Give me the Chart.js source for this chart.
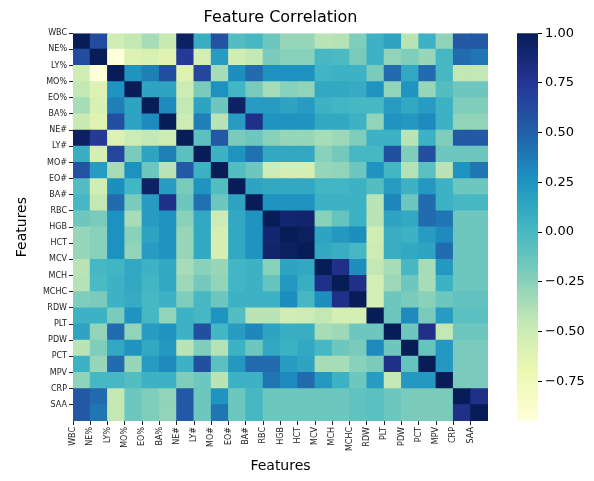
<!DOCTYPE html>
<html><head><meta charset="utf-8">
<script src="https://cdn.jsdelivr.net/npm/chart.js@4.4.1/dist/chart.umd.min.js"></script>
<style>
html,body{margin:0;padding:0;background:#fff;}
#wrap{position:relative;width:594px;height:481px;overflow:hidden;}
#main{position:absolute;left:0;top:0;width:594px;height:481px;}
#cbar{position:absolute;left:500px;top:0;width:94px;height:481px;}
</style></head><body>
<div id="wrap"><div id="main"><canvas id="c1"></canvas></div><div id="cbar"><canvas id="c2"></canvas></div></div>
<script>
const features = ['WBC','NE%','LY%','MO%','EO%','BA%','NE#','LY#','MO#','EO#','BA#','RBC','HGB','HCT','MCV','MCH','MCHC','RDW','PLT','PDW','PCT','MPV','CRP','SAA'];

const rowWBC  = [1, 0.62, -0.52, -0.45, -0.35, -0.48, 0.96, 0.08, 0.58, -0.05, 0.0, -0.15, -0.3, -0.3, -0.42, -0.4, -0.22, 0.05, 0.15, -0.42, 0.05, -0.27, 0.55, 0.55];
const rowNEp  = [0.62, 1, -0.95, -0.6, -0.58, -0.62, 0.72, -0.55, 0.2, -0.52, -0.45, -0.2, -0.25, -0.25, 0.0, -0.02, -0.2, 0.05, -0.28, -0.22, -0.3, 0.0, 0.45, 0.4];
const rowLYp  = [-0.52, -0.95, 1, 0.25, 0.35, 0.6, -0.6, 0.65, -0.35, 0.28, 0.45, 0.27, 0.27, 0.27, 0.03, 0.05, 0.05, -0.2, 0.45, 0.12, 0.45, 0.0, -0.45, -0.45];
const rowMOp  = [-0.45, -0.6, 0.25, 1, 0.15, 0.15, -0.5, -0.2, 0.27, 0.02, -0.2, -0.35, -0.25, -0.28, 0.12, 0.12, 0.1, 0.25, -0.28, 0.25, -0.3, -0.05, -0.15, -0.15];
const rowEOp  = [-0.35, -0.58, 0.35, 0.15, 1, 0.3, -0.45, 0.15, -0.15, 0.95, 0.2, 0.2, 0.15, 0.2, 0.05, 0.02, 0.0, 0.0, 0.2, 0.12, 0.2, 0.05, -0.22, -0.22];
const rowBAp  = [-0.48, -0.62, 0.6, 0.15, 0.3, 1, -0.5, 0.35, -0.42, 0.2, 0.8, 0.25, 0.25, 0.25, 0.12, 0.12, 0.05, -0.28, 0.25, 0.22, 0.3, 0.05, -0.28, -0.28];
const rowNEn  = [0.96, 0.72, -0.6, -0.5, -0.45, -0.5, 1, -0.08, 0.55, -0.2, -0.15, -0.25, -0.3, -0.3, -0.35, -0.32, -0.22, 0.05, 0.05, -0.42, 0.05, -0.22, 0.55, 0.55];
const rowLYn  = [0.08, -0.55, 0.65, -0.2, 0.15, 0.35, -0.08, 1, 0.05, 0.25, 0.42, 0.12, 0.12, 0.12, -0.25, -0.18, 0.0, 0.0, 0.6, -0.22, 0.6, -0.15, -0.15, -0.15];
const rowMOn  = [0.58, 0.2, -0.35, 0.27, -0.15, -0.42, 0.55, 0.05, 1, -0.05, -0.15, -0.5, -0.55, -0.55, -0.3, -0.28, -0.15, 0.25, 0.02, -0.4, -0.08, -0.42, 0.25, 0.4];
const rowEOn  = [-0.05, -0.52, 0.28, 0.02, 0.95, 0.2, -0.2, 0.25, -0.05, 1, 0.15, 0.12, 0.12, 0.12, 0.02, 0.02, 0.05, -0.05, 0.2, 0.05, 0.22, 0.05, -0.15, -0.15];
const rowBAn  = [0.0, -0.45, 0.45, -0.2, 0.2, 0.8, -0.15, 0.42, -0.15, 0.15, 1, 0.25, 0.25, 0.25, 0.05, 0.05, 0.05, -0.42, 0.32, -0.15, 0.45, 0.05, 0.0, 0.0];
const rowRBC  = [-0.15, -0.2, 0.27, -0.35, 0.2, 0.25, -0.25, 0.12, -0.5, 0.12, 0.25, 1, 0.9, 0.92, -0.25, -0.12, 0.05, -0.42, 0.15, 0.12, 0.45, 0.4, -0.15, -0.15];
const rowHGB  = [-0.3, -0.25, 0.27, -0.25, 0.15, 0.25, -0.3, 0.12, -0.55, 0.12, 0.25, 0.9, 1, 0.97, 0.15, 0.22, 0.28, -0.52, 0.08, 0.05, 0.2, 0.3, -0.15, -0.15];
const rowHCT  = [-0.3, -0.25, 0.27, -0.28, 0.2, 0.25, -0.3, 0.12, -0.55, 0.12, 0.25, 0.92, 0.97, 1, 0.12, 0.08, 0.0, -0.5, 0.08, 0.12, 0.15, 0.45, -0.15, -0.15];
const rowMCV  = [-0.42, 0.0, 0.03, 0.12, 0.05, 0.12, -0.35, -0.25, -0.3, 0.02, 0.05, -0.25, 0.15, 0.12, 1, 0.8, 0.28, -0.45, -0.35, 0.0, -0.35, 0.22, -0.15, -0.15];
const rowMCH  = [-0.4, -0.02, 0.05, 0.12, 0.02, 0.12, -0.32, -0.18, -0.28, 0.02, 0.05, -0.12, 0.22, 0.08, 0.8, 1, 0.8, -0.55, -0.32, -0.15, -0.35, 0.05, -0.15, -0.15];
const rowMCHC = [-0.22, -0.2, 0.05, 0.1, 0.0, 0.05, -0.22, 0.0, -0.15, 0.05, 0.05, 0.05, 0.28, 0.0, 0.28, 0.8, 1, -0.55, -0.15, -0.2, -0.25, -0.15, -0.1, -0.1];
const rowRDW  = [0.05, 0.05, -0.2, 0.25, 0.0, -0.28, 0.05, 0.0, 0.25, -0.05, -0.42, -0.42, -0.52, -0.5, -0.45, -0.55, -0.55, 1, -0.15, 0.3, -0.2, 0.2, -0.08, -0.08];
const rowPLT  = [0.15, -0.28, 0.45, -0.28, 0.2, 0.25, 0.05, 0.6, 0.02, 0.2, 0.32, 0.15, 0.08, 0.08, -0.35, -0.32, -0.15, -0.15, 1, -0.15, 0.8, -0.45, -0.15, -0.15];
const rowPDW  = [-0.42, -0.22, 0.12, 0.25, 0.12, 0.22, -0.42, -0.22, -0.4, 0.05, -0.15, 0.12, 0.05, 0.12, 0.0, -0.15, -0.2, 0.3, -0.15, 1, -0.12, 0.22, -0.2, -0.2];
const rowPCT  = [0.05, -0.3, 0.45, -0.3, 0.2, 0.3, 0.05, 0.6, -0.08, 0.22, 0.45, 0.45, 0.2, 0.15, -0.35, -0.35, -0.25, -0.2, 0.8, -0.12, 1, 0.22, -0.2, -0.2];
const rowMPV  = [-0.27, 0.0, 0.0, -0.05, 0.05, 0.05, -0.22, -0.15, -0.42, 0.05, 0.05, 0.4, 0.3, 0.45, 0.22, 0.05, -0.15, 0.2, -0.45, 0.22, 0.22, 1, -0.2, -0.2];
const rowCRP  = [0.55, 0.45, -0.45, -0.15, -0.22, -0.28, 0.55, -0.15, 0.25, -0.15, 0.0, -0.15, -0.15, -0.15, -0.15, -0.15, -0.1, -0.08, -0.15, -0.2, -0.2, -0.2, 1, 0.8];
const rowSAA  = [0.55, 0.4, -0.45, -0.15, -0.22, -0.28, 0.55, -0.15, 0.4, -0.15, 0.0, -0.15, -0.15, -0.15, -0.15, -0.15, -0.1, -0.08, -0.15, -0.2, -0.2, -0.2, 0.8, 1];

const colorbarTicks = [1, 0.75, 0.5, 0.25, 0, -0.25, -0.5, -0.75];

const matrix = [rowWBC, rowNEp, rowLYp, rowMOp, rowEOp, rowBAp, rowNEn, rowLYn, rowMOn, rowEOn, rowBAn,
  rowRBC, rowHGB, rowHCT, rowMCV, rowMCH, rowMCHC, rowRDW, rowPLT, rowPDW, rowPCT, rowMPV, rowCRP, rowSAA];

const YlGnBu = ['#ffffd9','#edf8b1','#c7e9b4','#7fcdbb','#41b6c4','#1d91c0','#225ea8','#253494','#081d58'];
const vmin = Math.min(...matrix.flat());
const vmax = 1;

function hex2rgb(h){ return [parseInt(h.slice(1,3),16), parseInt(h.slice(3,5),16), parseInt(h.slice(5,7),16)]; }
const stops = YlGnBu.map(hex2rgb);
function cmap(v){
  let t = (v - vmin) / (vmax - vmin);
  t = Math.max(0, Math.min(1, t));
  const p = t * (stops.length - 1);
  const i = Math.min(Math.floor(p), stops.length - 2);
  const f = p - i;
  const a = stops[i], b = stops[i+1];
  const c = a.map((x, k) => Math.round(x + (b[k] - x) * f));
  return `rgb(${c[0]},${c[1]},${c[2]})`;
}

Chart.defaults.font.family = "'DejaVu Sans', sans-serif";
Chart.defaults.color = '#000';

const cells = [];
matrix.forEach((row, r) => row.forEach((v, c) => cells.push({x: c + 0.5, y: [r, r + 1], v: v})));

new Chart(document.getElementById('c1'), {
  type: 'bar',
  data: { datasets: [{
    data: cells,
    backgroundColor: ctx => cmap(ctx.raw.v),
    borderWidth: 0,
    barPercentage: 1,
    categoryPercentage: 1,
    inflateAmount: 0.5,
    borderSkipped: false
  }]},
  options: {
    responsive: true, maintainAspectRatio: false, animation: false,
    events: [],
    layout: { padding: { left: 8, right: 106, top: 0, bottom: 0 } },
    plugins: {
      legend: { display: false },
      tooltip: { enabled: false },
      title: { display: true, text: 'Feature Correlation', fullSize: false,
        font: { size: 16, weight: 'normal' }, color: '#000', padding: { top: 8, bottom: 6 } }
    },
    scales: {
      x: {
        type: 'linear', min: 0, max: 24, offset: false,
        grid: { offset: false, drawOnChartArea: false, drawTicks: true, tickLength: 4, color: '#222' },
        border: { display: false },
        afterBuildTicks: ax => { ax.ticks = features.map((f, i) => ({ value: i })); },
        afterFit: ax => { ax.height = 60; },
        ticks: { autoSkip: false, minRotation: 90, maxRotation: 90, padding: 2, color: '#222',
          font: { size: 8 }, callback: v => features[v] },
        title: { display: true, text: 'Features', font: { size: 14 }, color: '#000', padding: { top: 0, bottom: 6 } }
      },
      y: {
        type: 'linear', min: 0, max: 24, reverse: true, offset: false,
        grid: { offset: false, drawOnChartArea: false, drawTicks: true, tickLength: 4, color: '#222' },
        border: { display: false },
        afterBuildTicks: ax => { ax.ticks = features.map((f, i) => ({ value: i })); },
        afterFit: ax => { ax.width = 65; },
        ticks: { autoSkip: false, padding: 2, color: '#222', font: { size: 8 }, callback: v => features[v] },
        title: { display: true, text: 'Features', font: { size: 14 }, color: '#000', padding: { top: 6, bottom: 0 } }
      }
    }
  }
});

new Chart(document.getElementById('c2'), {
  type: 'bar',
  data: { labels: [''], datasets: [{
    data: [[vmin, vmax]],
    backgroundColor: ctx => {
      const chart = ctx.chart;
      if (!chart.chartArea) return YlGnBu[4];
      const ys = chart.scales.y;
      const g = chart.ctx.createLinearGradient(0, ys.getPixelForValue(vmin), 0, ys.getPixelForValue(vmax));
      YlGnBu.forEach((c, i) => g.addColorStop(i / (YlGnBu.length - 1), c));
      return g;
    },
    borderWidth: 0, barPercentage: 1, categoryPercentage: 1, borderSkipped: false
  }]},
  options: {
    responsive: true, maintainAspectRatio: false, animation: false,
    events: [],
    layout: { padding: { left: 17, right: 0, top: 33.2, bottom: 60 } },
    plugins: { legend: { display: false }, tooltip: { enabled: false } },
    scales: {
      x: { display: false },
      y: {
        position: 'right', min: vmin, max: vmax,
        grid: { drawOnChartArea: false, drawTicks: true, tickLength: 4, color: '#000' },
        border: { display: false },
        afterBuildTicks: ax => { ax.ticks = colorbarTicks.map(v => ({ value: v })); },
        afterFit: ax => { ax.width = 56; },
        ticks: { padding: 3, color: '#000', font: { size: 13 },
          callback: v => (v < 0 ? '\u2212' : '') + Math.abs(v).toFixed(2) }
      }
    }
  }
});
</script>
</body></html>
